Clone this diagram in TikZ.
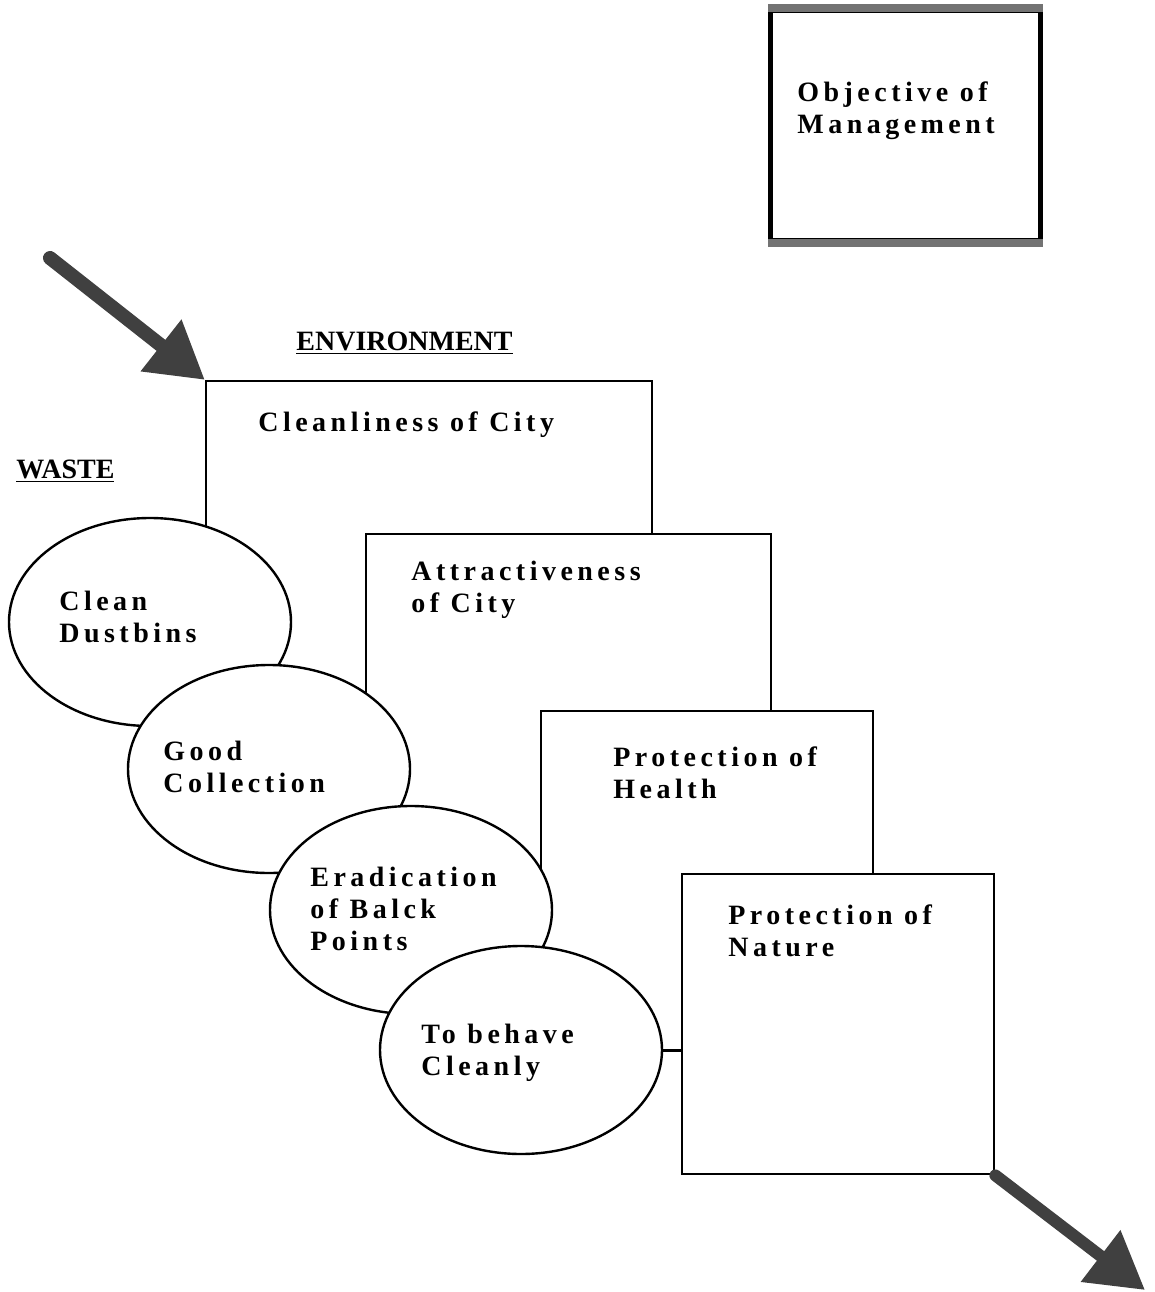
\documentclass[tikz,border=0pt]{standalone}
\usepackage{fontspec}
\setmainfont{Liberation Serif}[LetterSpace=16]
\newfontfamily\headfont{Liberation Serif}
\usetikzlibrary{arrows.meta,shapes.geometric}

\begin{document}
\begin{tikzpicture}[x=0.5pt,y=-0.5pt,
  font=\fontsize{14}{16}\selectfont\bfseries,
  stage/.style={draw,line width=1.2pt,fill=white,anchor=north west,inner sep=0pt},
  aim/.style={draw,ellipse,line width=1.2pt,fill=white,inner sep=0pt,
    minimum width=141pt,minimum height=104pt},
  txt/.style={anchor=north west,align=left,inner sep=0pt},
  head/.style={anchor=base west,inner sep=0pt,font=\fontsize{14}{16}\headfont\bfseries},
  fat/.style={draw=black!75,line cap=round,-{Triangle[length=28pt,width=31pt]}},
  rim/.style={line width=4pt,black!55}]
\useasboundingbox (0,0) rectangle (1155,1292);
% objective box, top right
\node[draw,line width=2.5pt,anchor=north west,inner sep=0pt,
  minimum width=135pt,minimum height=115pt] (obj) at (768,8) {};
\draw[rim] (obj.north west) -- (obj.north east);
\draw[rim] (obj.south west) -- (obj.south east);
\node[txt] (objt) at (797,81) {Objective of\\Management};
% headings
\node[head] (env) at (296,350) {\underline{ENVIRONMENT}};
\node[head] (waste) at (16,478) {\underline{WASTE}};
% environment steps
\node[stage,minimum width=223pt,minimum height=160pt] (b1) at (205,380) {};
\node[stage,minimum width=202.5pt,minimum height=173.5pt] (b2) at (365,533) {};
\node[stage,minimum width=166pt,minimum height=170pt] (b3) at (540,710) {};
\node[stage,minimum width=156pt,minimum height=150pt] (b4) at (681,873) {};
\node[txt] (t1) at (258,411) {Cleanliness of City};
\node[txt] (t2) at (411,561) {Attractiveness\\of City};
\node[txt] (t3) at (613,746) {Protection of\\Health};
\node[txt] (t4) at (728,904) {Protection of\\Nature};
% waste steps
\node[aim] (e1) at (150,622) {};
\node[txt] (w1) at (59,591) {Clean\\Dustbins};
\node[aim] (e2) at (269,769) {};
\node[txt] (w2) at (163,741) {Good\\Collection};
\node[aim] (e3) at (411,910) {};
\node[txt] (w3) at (310,867) {Eradication\\of Balck\\Points};
\node[aim] (e4) at (521,1050) {};
\node[txt] (w4) at (421,1024) {To behave\\Cleanly};
\draw[line width=1.2pt] (e4.east) -- (e4.east -| b4.west);
% in and out
\coordinate (in0) at (50,258);
\coordinate (out0) at (1145,1290);
\draw[fat,line width=7pt] (in0) -- (b1.north west);
\draw[fat,line width=6pt] (b4.south east) -- (out0);
\end{tikzpicture}
\end{document}
